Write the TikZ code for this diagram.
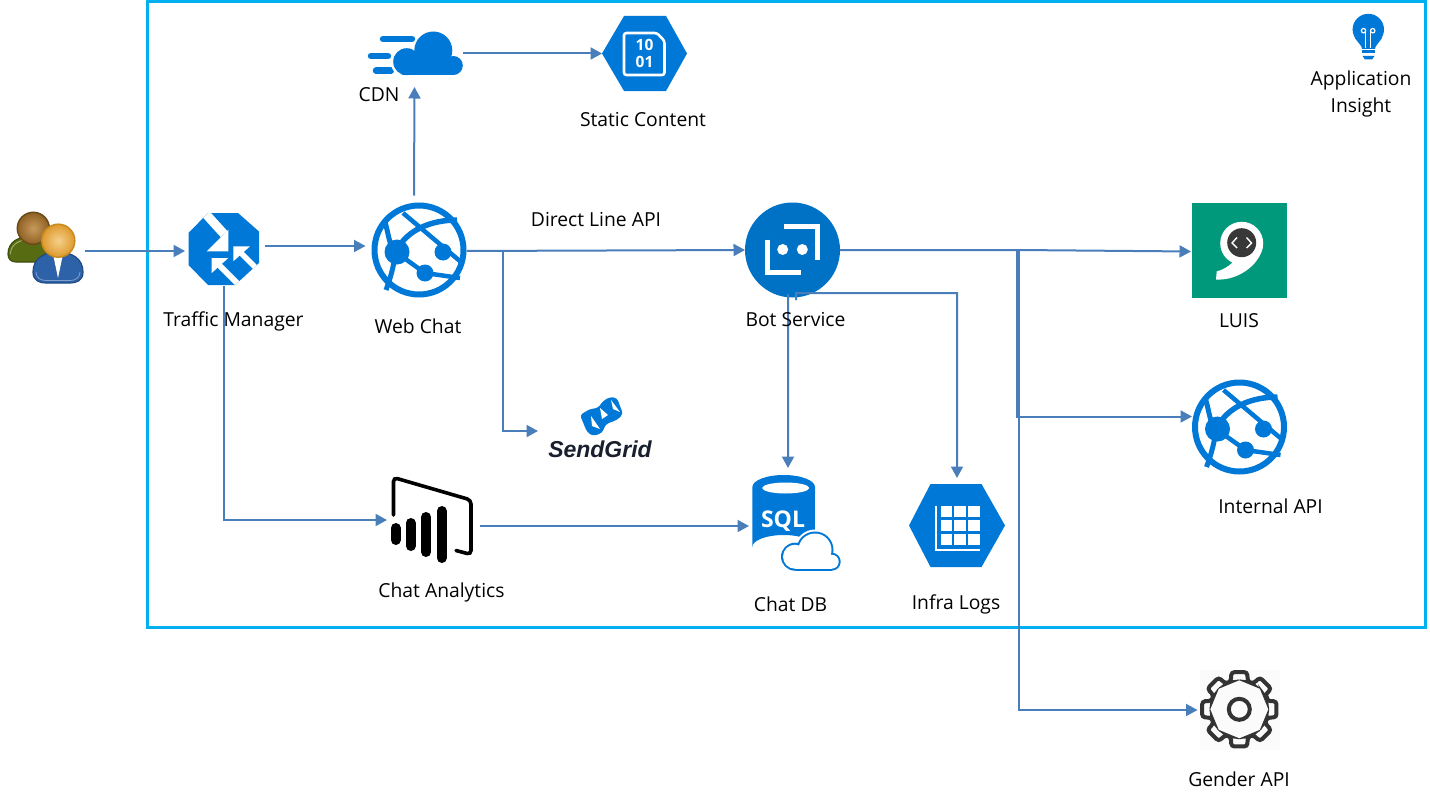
\documentclass[tikz,border=0pt]{standalone}
\usepackage{fontspec}
\setmainfont{Open Sans}
\newfontfamily\sgfont{Liberation Sans}
\usetikzlibrary{arrows.meta,calc}
\definecolor{azure}{HTML}{0078D7}
\definecolor{botblue}{HTML}{0072C6}
\definecolor{frameblue}{HTML}{00B0F0}
\definecolor{connblue}{HTML}{4A7EBB}
\definecolor{luisgreen}{HTML}{00997C}
\definecolor{headin}{HTML}{F5D08C}
\definecolor{headout}{HTML}{DE9A2E}
\definecolor{headrim}{HTML}{C98A1E}
\definecolor{bheadin}{HTML}{C89A5A}
\definecolor{bheadout}{HTML}{8F6024}
\definecolor{bheadrim}{HTML}{6B4A1A}
\definecolor{oliveb}{HTML}{566B12}
\definecolor{olivedk}{HTML}{3F4F0C}
\definecolor{oliveli}{HTML}{A9B57A}
\definecolor{suitb}{HTML}{2E62A8}
\definecolor{suitdk}{HTML}{1F4A85}
\definecolor{suitli}{HTML}{7F9FCC}
\definecolor{sgink}{HTML}{1A1F2E}
\tikzset{
  iconbox/.style={inner sep=0pt,outer sep=0pt,draw=none},
  lbl/.style={inner sep=0pt,yshift=-1bp,font=\fontsize{19.3bp}{23bp}\selectfont,text=black,text height=14bp,text depth=1bp,align=center},
  conn/.style={draw=connblue,line width=2bp,-{Triangle[length=11.5bp,width=12bp]}},
  globepic/.pic={
    \draw[azure,line width=6bp] (0,0) circle[radius=44.5];
    \fill[azure] (-22,2) circle[radius=12.5];
    \fill[azure] (24,2) circle[radius=8.5];
    \fill[azure] (6,23) circle[radius=8.5];
    \draw[azure,line width=4.5bp] (-16,-37) -- (42,12);
    \draw[azure,line width=5.5bp] (-22,0) .. controls (-12,-20) and (12,-30) .. (38,-30);
    \draw[azure,line width=5bp] (-34,-28) .. controls (-31,-18) and (-30,-8) .. (-26,0);
    \draw[azure,line width=5bp] (-24,6) .. controls (-26,20) and (-30,32) .. (-33,40);
    \draw[azure,line width=4.5bp] (-22,3) -- (6,23) -- (41,28);
  }
}
\begin{document}
\begin{tikzpicture}[x=1bp,y=-1bp]
\useasboundingbox (0,0) rectangle (1430,805);
\fill[white] (0,0) rectangle (1430,805);
\draw[frameblue,line width=3bp] (147.5,1.5) rectangle (1425,627);

% --- anchors of the icons
\node[iconbox,minimum width=78bp,minimum height=76bp] (user) at (46,251) {};
\node[iconbox,minimum width=70bp,minimum height=72bp] (tm) at (224,250) {};
\node[iconbox,minimum width=95bp,minimum height=95bp] (web) at (419,250) {};
\node[iconbox,minimum width=70bp,minimum height=44bp] (cdn) at (428,53.5) {};
\node[iconbox,minimum width=85bp,minimum height=75bp] (static) at (644.5,53.5) {};
\node[iconbox,minimum width=95bp,minimum height=95bp] (bot) at (792.5,250) {};
\node[iconbox,minimum width=95bp,minimum height=95bp] (luis) at (1239.5,250.5) {};
\node[iconbox,minimum width=95bp,minimum height=95bp] (api) at (1239.5,427) {};
\node[iconbox,minimum width=82bp,minimum height=82bp] (gender) at (1239,710) {};
\node[iconbox,minimum width=104bp,minimum height=60bp] (sendgrid) at (600,431) {};
\node[iconbox,minimum width=83bp,minimum height=86bp] (analytics) at (431.5,520) {};
\node[iconbox,minimum width=63bp,minimum height=84bp] (db) at (783.5,517) {};
\node[iconbox,minimum width=96bp,minimum height=83bp] (infra) at (957,525.5) {};
\coordinate (wsg) at (502.5,251);
\coordinate (bi) at (796,293);
\coordinate (bsplit) at (1019,250);
\coordinate (bsplita) at (1017,250);

% --- user icon
\draw[draw=olivedk,line width=1.2bp,fill=oliveb] (8,254) .. controls (8,241) and (20,236) .. (33,236) .. controls (46,236) and (54,241) .. (54,254) -- (54,262) -- (16,262) .. controls (11,262) and (8,259) .. (8,254) -- cycle;
\draw[oliveli,line width=.8bp] (10.5,254) .. controls (10.5,244) and (20,239) .. (33,239);
\shade[inner color=bheadin,outer color=bheadout] (33.3,228.3) circle[radius=16];
\draw[bheadrim,line width=1.5bp] (33.3,228.3) circle[radius=16];
\draw[draw=suitdk,line width=1.2bp,fill=suitb] (33,272) .. controls (33,258) and (45,252) .. (58,252) .. controls (71,252) and (83,258) .. (83,272) .. controls (83,281) and (76,283) .. (70,283) -- (46,283) .. controls (40,283) and (33,281) .. (33,272) -- cycle;
\draw[suitli,line width=.8bp] (36,272) .. controls (36,278) and (41,280.5) .. (46,280.5) -- (70,280.5) .. controls (75,280.5) and (80,278) .. (80,272);
\fill[white] (53,254) -- (63,254) -- (58,278) -- cycle;
\shade[inner color=headin,outer color=headout] (58.3,240.7) circle[radius=16.5];
\draw[headrim,line width=1.5bp] (58.3,240.7) circle[radius=16.5];

% --- traffic manager
\fill[azure] (208,213) -- (238,213) -- (259,231.5) -- (259,263) -- (235,285) -- (208,285) -- (188.5,265) -- (188.5,233) -- cycle;
\begin{scope}
\clip (208,213) -- (238,213) -- (259,231.5) -- (259,263) -- (235,285) -- (208,285) -- (188.5,265) -- (188.5,233) -- cycle;
\draw[white,line width=9bp] (204,212) -- (224,234);
\fill[white] (228.3,229.7) -- (228.3,251.3) -- (206.7,251.3) -- cycle;
\draw[white,line width=5.5bp] (240,252) -- (262,274);
\fill[white] (233.3,246.3) -- (250,246.3) -- (233.3,261.3) -- cycle;
\draw[white,line width=6bp] (218,264) -- (242,288);
\fill[white] (211.7,258) -- (228.3,258) -- (211.7,273) -- cycle;
\end{scope}

% --- globes
\pic at (419,250) {globepic};
\pic at (1239.5,427) {globepic};

% --- CDN
\draw[azure,line width=6.5bp,line cap=round] (383,39) -- (412,39) (371,56) -- (388,56) (376,70.7) -- (391,70.7);
\fill[white] (406.7,61.7) circle[radius=16];
\fill[white] (433.3,50.5) circle[radius=21];
\fill[azure] (406.7,61.7) circle[radius=13.5];
\fill[azure] (433.3,50.5) circle[radius=19];
\fill[azure] (453.3,65.5) circle[radius=9.5];
\fill[azure] (402,60) rectangle (453,75);

% --- static content
\fill[azure] (602,53.5) -- (624,16) -- (666,16) -- (687,53.5) -- (666,91) -- (624,91) -- cycle;
\draw[white,line width=2.6bp,rounded corners=2.5bp] (624,33) -- (657,33) -- (664.5,41) -- (664.5,75) -- (624,75) -- cycle;
\node[inner sep=0pt,text=white,font=\fontsize{15.5bp}{15.5bp}\selectfont\bfseries] (ten) at (644.5,45) {10};
\node[inner sep=0pt,text=white,font=\fontsize{15.5bp}{15.5bp}\selectfont\bfseries] (one) at (644.5,62) {01};

% --- bot
\fill[botblue] (792.5,250) circle[radius=47.5];
\draw[white,line width=5.5bp] (767.7,239.5) -- (767.7,272.7) -- (801,272.7) (784.3,226.7) -- (817.3,226.7) -- (817.3,259.5);
\fill[white] (782.7,249.5) circle[radius=5.5];
\fill[white] (802.3,249.5) circle[radius=5.5];

% --- LUIS
\fill[luisgreen] (1192,203) rectangle (1287,298);
\fill[white] (1241.7,243.3) circle[radius=21.5];
\fill[white] (1263,243) .. controls (1263,262) and (1240,281) .. (1216,279.5) -- (1216.7,271.5) .. controls (1225,269) and (1233,264) .. (1236,257) -- cycle;
\fill[black!78] (1241.7,242.7) circle[radius=14.5];
\draw[white,line width=1.4bp] (1237,237.5) -- (1232,243) -- (1237,248) (1246.5,237.5) -- (1251.5,243) -- (1246.5,248);

% --- SendGrid
\fill[azure,rounded corners=3bp] (580,415) -- (590,409) -- (598,408) -- (603,401) -- (610,397) -- (617,398) -- (623,414) -- (617,420) -- (606,424) -- (602,433) -- (593,436) -- (587,432) -- cycle;
\fill[white] (591,416) -- (600,429) -- (592,426) -- cycle;
\fill[white] (600,408) -- (608,415) -- (602,419) -- cycle;
\fill[white] (611,400) -- (620,412) -- (613,409) -- cycle;
\node[inner sep=0pt,font=\sgfont\fontsize{23bp}{23bp}\selectfont\bfseries\itshape,text=sgink] (sgtext) at (600,449) {SendGrid};

% --- Power BI
\draw[black,line width=3.6bp,line cap=round,rounded corners=4bp] (393.5,515) -- (393.5,477.5) -- (471,500) -- (471,554.5) -- (456,550.5);
\draw[black,line width=10bp,line cap=round] (395.7,528) -- (395.7,540) (410.7,523) -- (410.7,546) (426,517) -- (426,552) (441.7,511) -- (441.7,558);

% --- SQL
\fill[azure] (752.3,487) -- (752.3,547) arc[start angle=180,end angle=0,x radius=31.3,y radius=-12] -- (815,487) arc[start angle=0,end angle=180,x radius=31.3,y radius=-12] -- cycle;
\fill[white] (785.7,488) ellipse[x radius=23.5,y radius=5.5];
\node[inner sep=0pt,text=white,font=\fontsize{23bp}{23bp}\selectfont\bfseries] (sql) at (783,521) {SQL};
\fill[white] (795,556.7) circle[radius=16.5];
\fill[white] (815,550) circle[radius=20.5];
\fill[white] (831.7,561.7) circle[radius=11.5];
\fill[azure] (795,556.7) circle[radius=14];
\fill[azure] (815,550) circle[radius=18.5];
\fill[azure] (831.7,561.7) circle[radius=9];
\fill[azure] (795,558) rectangle (832,570.5);
\fill[white] (795,556.7) circle[radius=12];
\fill[white] (815,550) circle[radius=16.5];
\fill[white] (831.7,561.7) circle[radius=7];
\fill[white] (795,558) rectangle (832,568.5);

% --- infra logs
\fill[azure] (909,525.5) -- (930.5,484) -- (981.5,484) -- (1005,525.5) -- (981.5,567) -- (930.5,567) -- cycle;
\foreach \gx in {940.7,954.3,968.3} \foreach \gy in {506,520,534} \fill[white] (\gx,\gy) rectangle ++(11.2,11);
\draw[white,line width=2bp] (935.7,506) -- (935.7,550) -- (980,550);

% --- gender API
\fill[black!1.5] (1200,670) rectangle (1280,750);
\draw[black!80,line width=4bp,rounded corners=3bp] ($(1239.3,709.3)+(-17:29)$) \foreach \a in {0,45,...,315} { -- ($(1239.3,709.3)+({\a-17}:29)$) -- ($(1239.3,709.3)+({\a-12}:38)$) -- ($(1239.3,709.3)+({\a+12}:38)$) -- ($(1239.3,709.3)+({\a+17}:29)$) } -- cycle;
\draw[black!80,line width=4bp] (1239.3,709.3) circle[radius=10.5];

% --- application insight
\fill[azure] (1368.3,29.5) circle[radius=15.7];
\fill[azure] (1355,38) .. controls (1359,44) and (1362,46) .. (1362,49) -- (1375,49) .. controls (1375,46) and (1378,44) .. (1382,38) -- cycle;
\draw[white,line width=1.2bp] (1365.7,48) -- (1365.7,30.7) (1370.5,48) -- (1370.5,30.7);
\draw[white,line width=1.2bp] (1363.5,30.7) circle[radius=2.2];
\draw[white,line width=1.2bp] (1372.7,30.7) circle[radius=2.2];
\fill[azure] (1362,50.2) rectangle (1375,53);
\fill[azure] (1362.5,56) -- (1374.5,56) -- (1372,59.5) -- (1365,59.5) -- cycle;

% --- connectors
\draw[conn] (user.east) -- ([xshift=-4bp]tm.west |- user.east);
\draw[conn] ([xshift=6bp,yshift=4bp]tm.east) -- ([xshift=-6bp,yshift=4bp]web.west);
\draw[conn] ([xshift=-5bp,yshift=7bp]web.north) -- ([xshift=-13.5bp,yshift=-11.5bp]cdn.south);
\draw[conn] (cdn.east) -- (static.west);
\draw[conn] ([yshift=-1bp]web.east) -- (bot.west);
\draw[conn] ([yshift=-1bp]web.east) -- (wsg) |- ([xshift=-10bp]sendgrid.west);
\draw[conn] (tm.south) |- ([xshift=-3bp]analytics.west);
\draw[conn] ([xshift=7bp,yshift=-6bp]analytics.east) -- ([xshift=-3bp,yshift=-6bp]db.west |- analytics.east);
\draw[conn] ([xshift=-4.5bp,yshift=3.5bp]bot.south) -- ([xshift=4.5bp,yshift=7bp]db.north);
\draw[conn] ([xshift=3.5bp,yshift=-2.5bp]bot.south) -- (bi) -| ([yshift=6bp]infra.north);
\draw[conn] (bot.east) -- (bsplit) -- ([xshift=-1bp,yshift=-1bp]luis.west);
\draw[conn] (bot.east) -- (bsplita) |- ([yshift=10.5bp]api.west);
\draw[conn] (bot.east) -- (bsplit) |- ([xshift=-.5bp]gender.west);

% --- labels
\node[lbl] (ltm) at (233.5,319) {Traffic Manager};
\node[lbl] (lweb) at (418,326) {Web Chat};
\node[lbl] (lcdn) at (379,94) {CDN};
\node[lbl] (lstatic) at (643,119) {Static Content};
\node[lbl] (ldirect) at (596,219) {Direct Line API};
\node[lbl] (lbot) at (795.5,319) {Bot Service};
\node[lbl] (lluis) at (1239,320) {LUIS};
\node[lbl] (lapi) at (1270.5,506) {Internal API};
\node[lbl] (lana) at (441.5,590) {Chat Analytics};
\node[lbl] (ldb) at (790.5,604) {Chat DB};
\node[lbl] (linfra) at (956,602) {Infra Logs};
\node[lbl] (lgender) at (1239,779) {Gender API};
\node[lbl] (lins1) at (1361,78) {Application};
\node[lbl] (lins2) at (1361,105) {Insight};
\end{tikzpicture}
\end{document}
